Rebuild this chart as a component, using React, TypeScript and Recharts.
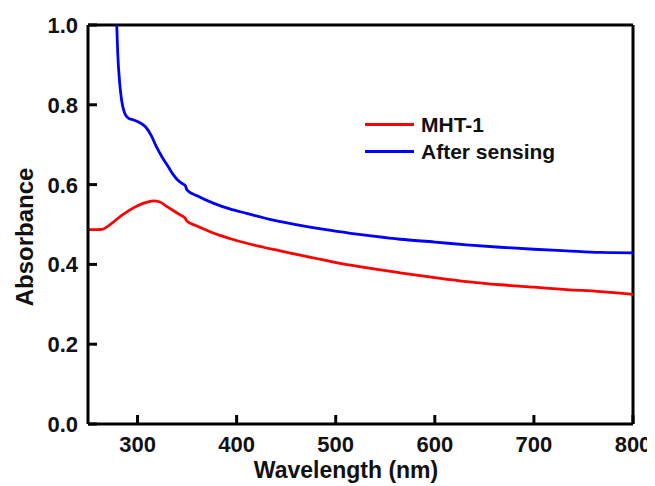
import React from "react";
import { LineChart, Line, XAxis, YAxis, Label, ReferenceLine } from "recharts";

const redWavelengths = [250, 264, 274, 283, 292, 300, 308, 316, 322, 329, 336, 343, 348, 350, 360, 377, 393, 410, 427, 444, 464, 490, 515, 540, 565, 600, 632, 666, 700, 733, 767, 800];
const redValues = [0.487, 0.488, 0.503, 0.521, 0.536, 0.547, 0.555, 0.559, 0.557, 0.546, 0.535, 0.524, 0.516, 0.508, 0.496, 0.478, 0.465, 0.453, 0.443, 0.434, 0.423, 0.41, 0.398, 0.388, 0.379, 0.367, 0.357, 0.349, 0.343, 0.337, 0.332, 0.325];

const blueWavelengths = [277, 279, 280, 282, 284, 287, 291, 296, 301, 308, 314, 319, 325, 331, 336, 340, 346, 348, 350, 360, 377, 393, 410, 437, 464, 490, 515, 540, 565, 600, 632, 666, 700, 733, 767, 800];
const blueValues = [1.1, 1.0, 0.93, 0.854, 0.81, 0.779, 0.766, 0.762, 0.757, 0.745, 0.722, 0.695, 0.668, 0.645, 0.625, 0.613, 0.601, 0.598, 0.586, 0.572, 0.553, 0.539, 0.528, 0.511, 0.498, 0.487, 0.478, 0.47, 0.463, 0.456, 0.449, 0.443, 0.438, 0.434, 0.43, 0.429];

const xTicks = [300, 400, 500, 600, 700, 800];
const yTicks = [0, 0.2, 0.4, 0.6, 0.8, 1.0];

const seriesNames = ["MHT-1", "After sensing"];
const seriesColors = ["#ff0000", "#0000ff"];

const redData = redWavelengths.map((wl, i) => ({ wl, v: redValues[i] }));
const blueData = blueWavelengths.map((wl, i) => ({ wl, v: blueValues[i] }));

const FONT = "'Liberation Sans', Arial, sans-serif";
const X_DOMAIN = [250, 800];
const Y_DOMAIN = [0, 1];
const PLOT_W = 545;
const PLOT_H = 399;
const TICK_PX = 9;
const TICK_DX = (TICK_PX * (X_DOMAIN[1] - X_DOMAIN[0])) / PLOT_W;
const TICK_DY = (TICK_PX * (Y_DOMAIN[1] - Y_DOMAIN[0])) / PLOT_H;

const labelStyle = { fontFamily: FONT, fontWeight: "bold" as const, fontSize: 22, fill: "#111" };

const XTick = (props: any) => {
  const { x, y, payload } = props;
  return (
    <text x={x} y={y} dy="0.75em" textAnchor="middle" style={labelStyle}>
      {payload.value}
    </text>
  );
};

const YTick = (props: any) => {
  const { x, y, payload } = props;
  return (
    <text x={x} y={y} dy="0.36em" textAnchor="end" style={labelStyle}>
      {Number(payload.value).toFixed(1)}
    </text>
  );
};

export default function App() {
  const titleStyle = { fontFamily: FONT, fontWeight: "bold", fontSize: 23, fill: "#111" };
  return (
    <div style={{ position: "relative", width: 647, height: 476 }}>
      <LineChart
        width={647}
        height={476}
        margin={{ top: 17, right: 22, bottom: 0, left: 0 }}
        style={{ fontFamily: FONT }}
      >
        <XAxis
          xAxisId="b"
          type="number"
          dataKey="wl"
          domain={X_DOMAIN}
          ticks={xTicks}
          allowDataOverflow
          height={60}
          tickSize={0}
          tickMargin={11}
          tick={<XTick />}
          tickLine={false}
          axisLine={{ stroke: "#000", strokeWidth: 3 }}
        >
          <Label
            content={() => (
              <text x={338} y={470} textAnchor="middle" style={titleStyle}>
                Wavelength (nm)
              </text>
            )}
          />
        </XAxis>
        <YAxis
          yAxisId="l"
          type="number"
          domain={Y_DOMAIN}
          ticks={yTicks}
          allowDataOverflow
          width={80}
          tickSize={0}
          tickMargin={10}
          tick={<YTick />}
          tickLine={false}
          axisLine={{ stroke: "#000", strokeWidth: 3 }}
        >
          <Label
            content={() => (
              <text
                x={16}
                y={229}
                textAnchor="middle"
                dominantBaseline="central"
                transform="rotate(-90 16 229)"
                style={{ ...titleStyle, fontSize: 24 }}
              >
                Absorbance
              </text>
            )}
          />
        </YAxis>
        <ReferenceLine xAxisId="b" yAxisId="l" y={1} stroke="#000" strokeWidth={3} />
        <ReferenceLine xAxisId="b" yAxisId="l" x={800} stroke="#000" strokeWidth={3} />
        {xTicks.map((t) => (
          <ReferenceLine
            key={"xt" + t}
            xAxisId="b"
            yAxisId="l"
            segment={[{ x: t, y: Y_DOMAIN[0] }, { x: t, y: Y_DOMAIN[0] + TICK_DY }]}
            stroke="#000"
            strokeWidth={3}
          />
        ))}
        {yTicks.map((t) => (
          <ReferenceLine
            key={"yt" + t}
            xAxisId="b"
            yAxisId="l"
            segment={[{ x: X_DOMAIN[0], y: t }, { x: X_DOMAIN[0] + TICK_DX, y: t }]}
            stroke="#000"
            strokeWidth={3}
          />
        ))}
        <Line
          xAxisId="b"
          yAxisId="l"
          data={redData}
          dataKey="v"
          type="monotone"
          stroke={seriesColors[0]}
          strokeWidth={2.8}
          dot={false}
          isAnimationActive={false}
          name={seriesNames[0]}
        />
        <Line
          xAxisId="b"
          yAxisId="l"
          data={blueData}
          dataKey="v"
          type="monotone"
          stroke={seriesColors[1]}
          strokeWidth={2.8}
          dot={false}
          isAnimationActive={false}
          name={seriesNames[1]}
        />
      </LineChart>
      <div
        style={{
          position: "absolute",
          left: 357,
          top: 103,
          fontFamily: FONT,
          fontWeight: "bold",
          fontSize: 21,
          color: "#111",
        }}
      >
        {seriesNames.map((n, i) => (
          <div key={n} style={{ display: "flex", alignItems: "center", height: 27 }}>
            <div style={{ width: 49, height: 3, background: seriesColors[i], marginRight: 7 }} />
            <span>{n}</span>
          </div>
        ))}
      </div>
    </div>
  );
}
